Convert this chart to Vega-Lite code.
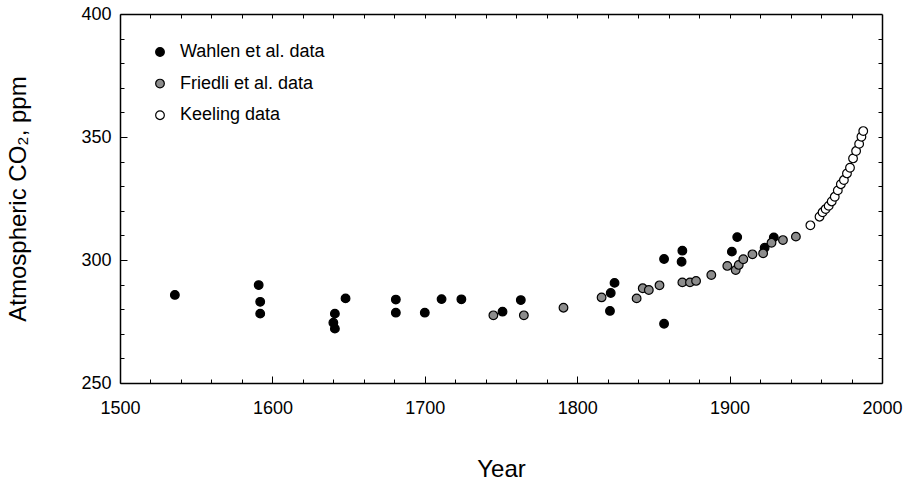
{
  "$schema": "https://vega.github.io/schema/vega-lite/v6.json",
  "width": 762,
  "height": 369,
  "autosize": {"type": "none"},
  "padding": {"left": 120, "top": 14, "right": 21, "bottom": 101},
  "background": "white",
  "config": {
    "view": {"stroke": null},
    "font": "Liberation Sans",
    "axis": {
      "domainColor": "black", "domainWidth": 1.5, "tickColor": "black", "tickWidth": 1,
      "labelColor": "black", "titleColor": "black", "labelFont": "Liberation Sans",
      "titleFont": "Liberation Sans", "labelFontSize": 18, "titleFontSize": 24,
      "titleFontWeight": "normal", "grid": false, "labelFlush": false
    }
  },
  "data": {
    "values": [
      {"year": 1536, "co2": 285.8, "series": "Wahlen et al. data"},
      {"year": 1591, "co2": 289.8, "series": "Wahlen et al. data"},
      {"year": 1592, "co2": 283.0, "series": "Wahlen et al. data"},
      {"year": 1592, "co2": 278.2, "series": "Wahlen et al. data"},
      {"year": 1641, "co2": 278.2, "series": "Wahlen et al. data"},
      {"year": 1640, "co2": 274.5, "series": "Wahlen et al. data"},
      {"year": 1641, "co2": 272.1, "series": "Wahlen et al. data"},
      {"year": 1648, "co2": 284.4, "series": "Wahlen et al. data"},
      {"year": 1681, "co2": 283.9, "series": "Wahlen et al. data"},
      {"year": 1681, "co2": 278.6, "series": "Wahlen et al. data"},
      {"year": 1700, "co2": 278.6, "series": "Wahlen et al. data"},
      {"year": 1711, "co2": 284.1, "series": "Wahlen et al. data"},
      {"year": 1724, "co2": 284.0, "series": "Wahlen et al. data"},
      {"year": 1751, "co2": 279.0, "series": "Wahlen et al. data"},
      {"year": 1763, "co2": 283.7, "series": "Wahlen et al. data"},
      {"year": 1822, "co2": 286.6, "series": "Wahlen et al. data"},
      {"year": 1824.5, "co2": 290.7, "series": "Wahlen et al. data"},
      {"year": 1821.5, "co2": 279.3, "series": "Wahlen et al. data"},
      {"year": 1857, "co2": 300.4, "series": "Wahlen et al. data"},
      {"year": 1857, "co2": 274.1, "series": "Wahlen et al. data"},
      {"year": 1869, "co2": 303.8, "series": "Wahlen et al. data"},
      {"year": 1868.5, "co2": 299.3, "series": "Wahlen et al. data"},
      {"year": 1901.5, "co2": 303.4, "series": "Wahlen et al. data"},
      {"year": 1905, "co2": 309.3, "series": "Wahlen et al. data"},
      {"year": 1923, "co2": 305.0, "series": "Wahlen et al. data"},
      {"year": 1929, "co2": 309.2, "series": "Wahlen et al. data"},
      {"year": 1745, "co2": 277.5, "series": "Friedli et al. data"},
      {"year": 1765, "co2": 277.5, "series": "Friedli et al. data"},
      {"year": 1791, "co2": 280.6, "series": "Friedli et al. data"},
      {"year": 1816, "co2": 284.8, "series": "Friedli et al. data"},
      {"year": 1839, "co2": 284.4, "series": "Friedli et al. data"},
      {"year": 1843, "co2": 288.5, "series": "Friedli et al. data"},
      {"year": 1847, "co2": 287.8, "series": "Friedli et al. data"},
      {"year": 1854, "co2": 289.7, "series": "Friedli et al. data"},
      {"year": 1869, "co2": 290.9, "series": "Friedli et al. data"},
      {"year": 1874, "co2": 290.9, "series": "Friedli et al. data"},
      {"year": 1878, "co2": 291.5, "series": "Friedli et al. data"},
      {"year": 1888, "co2": 293.9, "series": "Friedli et al. data"},
      {"year": 1898.5, "co2": 297.6, "series": "Friedli et al. data"},
      {"year": 1904, "co2": 295.9, "series": "Friedli et al. data"},
      {"year": 1906, "co2": 298.0, "series": "Friedli et al. data"},
      {"year": 1909, "co2": 300.3, "series": "Friedli et al. data"},
      {"year": 1915, "co2": 302.3, "series": "Friedli et al. data"},
      {"year": 1922, "co2": 302.7, "series": "Friedli et al. data"},
      {"year": 1927.5, "co2": 307.0, "series": "Friedli et al. data"},
      {"year": 1935, "co2": 308.1, "series": "Friedli et al. data"},
      {"year": 1943.5, "co2": 309.5, "series": "Friedli et al. data"},
      {"year": 1953, "co2": 314.1, "series": "Keeling data"},
      {"year": 1959, "co2": 317.6, "series": "Keeling data"},
      {"year": 1961, "co2": 319.4, "series": "Keeling data"},
      {"year": 1963, "co2": 320.7, "series": "Keeling data"},
      {"year": 1965, "co2": 322.0, "series": "Keeling data"},
      {"year": 1967, "co2": 323.8, "series": "Keeling data"},
      {"year": 1969, "co2": 325.7, "series": "Keeling data"},
      {"year": 1971, "co2": 328.3, "series": "Keeling data"},
      {"year": 1973, "co2": 330.8, "series": "Keeling data"},
      {"year": 1975, "co2": 332.5, "series": "Keeling data"},
      {"year": 1977, "co2": 335.2, "series": "Keeling data"},
      {"year": 1979, "co2": 337.5, "series": "Keeling data"},
      {"year": 1981, "co2": 341.3, "series": "Keeling data"},
      {"year": 1983, "co2": 344.3, "series": "Keeling data"},
      {"year": 1985, "co2": 347.2, "series": "Keeling data"},
      {"year": 1986.5, "co2": 350.1, "series": "Keeling data"},
      {"year": 1987.7, "co2": 352.4, "series": "Keeling data"}
    ]
  },
  "resolve": {"axis": {"x": "independent", "y": "independent"}},
  "layer": [
    {
      "mark": {"type": "point", "filled": true, "size": 75, "stroke": "black", "strokeWidth": 1.2, "opacity": 1},
      "encoding": {
        "x": {"field": "year", "type": "quantitative",
          "scale": {"domain": [1500, 2000], "nice": false, "zero": false},
          "axis": {"orient": "bottom", "values": [1500, 1600, 1700, 1800, 1900, 2000], "tickSize": -7,
            "labelPadding": 23, "title": "Year", "titlePadding": 40, "format": "d"}},
        "y": {"field": "co2", "type": "quantitative",
          "scale": {"domain": [250, 400], "nice": false, "zero": false},
          "axis": {"orient": "left", "values": [250, 300, 350, 400], "tickSize": -7,
            "labelPadding": 16, "title": "Atmospheric CO₂, ppm", "titlePadding": 50}},
        "fill": {"field": "series", "type": "nominal",
          "scale": {"domain": ["Wahlen et al. data", "Friedli et al. data", "Keeling data"], "range": ["black", "#8c8c8c", "white"]},
          "legend": {"title": null, "orient": "none", "legendX": 31, "legendY": 29, "symbolType": "circle",
            "symbolSize": 75, "symbolStrokeColor": "black", "symbolStrokeWidth": 1.2, "symbolOpacity": 1,
            "labelFontSize": 18, "labelFont": "Liberation Sans", "labelColor": "black", "labelOffset": 11,
            "rowPadding": 13.6, "padding": 0}}
      }
    },
    {
      "mark": {"type": "point", "opacity": 0},
      "encoding": {
        "x": {"field": "year", "type": "quantitative", "scale": {"domain": [1500, 2000], "nice": false, "zero": false},
          "axis": {"orient": "bottom", "values": [1520, 1540, 1560, 1580, 1620, 1640, 1660, 1680, 1720, 1740, 1760, 1780, 1820, 1840, 1860, 1880, 1920, 1940, 1960, 1980],
            "tickSize": -4, "labels": false, "domain": false, "title": null}},
        "y": {"field": "co2", "type": "quantitative", "scale": {"domain": [250, 400], "nice": false, "zero": false},
          "axis": {"orient": "left", "values": [260, 270, 280, 290, 310, 320, 330, 340, 360, 370, 380, 390],
            "tickSize": -4, "labels": false, "domain": false, "title": null}}
      }
    },
    {
      "mark": {"type": "point", "opacity": 0},
      "encoding": {
        "x": {"field": "year", "type": "quantitative", "scale": {"domain": [1500, 2000], "nice": false, "zero": false},
          "axis": {"orient": "top", "values": [1520, 1540, 1560, 1580, 1600, 1620, 1640, 1660, 1680, 1700, 1720, 1740, 1760, 1780, 1800, 1820, 1840, 1860, 1880, 1900, 1920, 1940, 1960, 1980],
            "tickSize": -4, "labels": false, "domain": true, "title": null}},
        "y": {"field": "co2", "type": "quantitative", "scale": {"domain": [250, 400], "nice": false, "zero": false},
          "axis": {"orient": "right", "values": [260, 270, 280, 290, 300, 310, 320, 330, 340, 350, 360, 370, 380, 390],
            "tickSize": -4, "labels": false, "domain": true, "title": null}}
      }
    }
  ]
}
